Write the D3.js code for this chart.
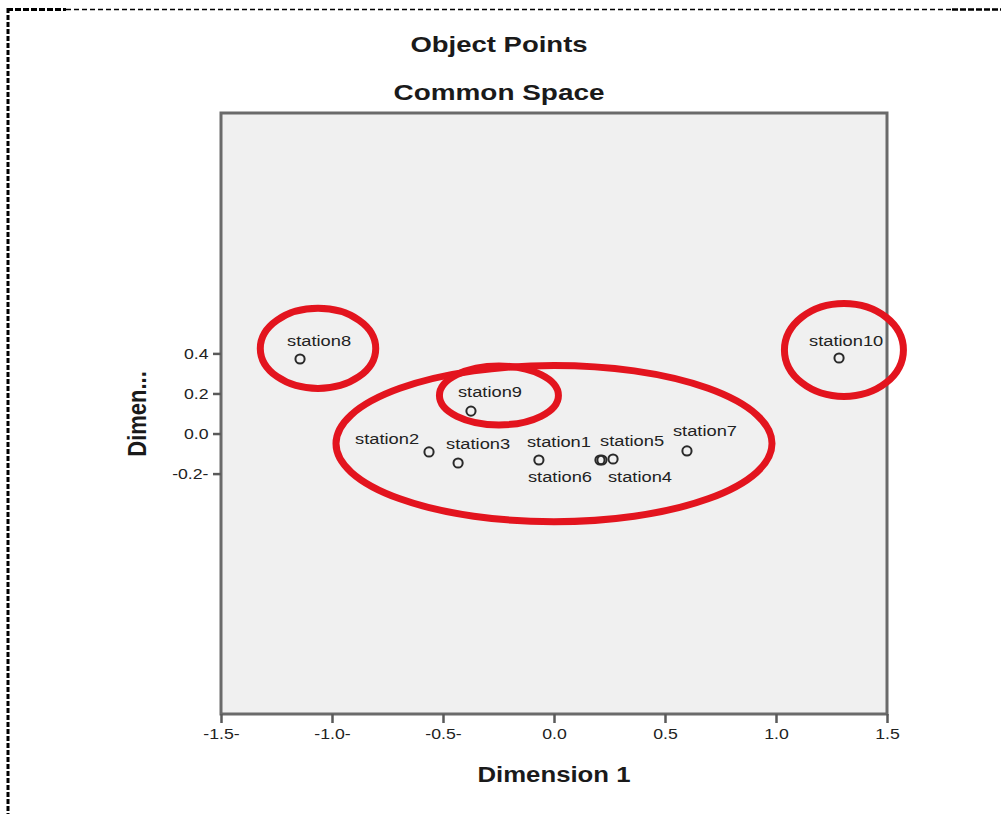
<!DOCTYPE html>
<html>
<head>
<meta charset="utf-8">
<script src="https://cdn.jsdelivr.net/npm/d3@7"></script>
<style>
  html, body { margin: 0; padding: 0; background: #ffffff; }
  svg { display: block; }
  text { font-family: "Liberation Sans", Arial, sans-serif; }
</style>
</head>
<body>
<svg id="chart" width="1001" height="814"></svg>
<script>
// Object points in the common space (dimension 1, dimension 2)
const stations = ["station1", "station2", "station3", "station4", "station5",
                  "station6", "station7", "station8", "station9", "station10"];
const dim1 = [-0.068, -0.563, -0.432, 0.216, 0.266, 0.207, 0.599, -1.144, -0.374, 1.284];
const dim2 = [-0.132, -0.092, -0.147, -0.132, -0.127, -0.132, -0.087, 0.372, 0.112, 0.377];

// Axis ticks and their printed labels
const xTicks = [-1.5, -1.0, -0.5, 0.0, 0.5, 1.0, 1.5];
const xTickLabels = ["-1.5-", "-1.0-", "-0.5-", "0.0", "0.5", "1.0", "1.5"];
const yTicks = [-0.2, 0.0, 0.2, 0.4];
const yTickLabels = ["-0.2-", "0.0", "0.2", "0.4"];

// Hand-drawn groupings (centre and radii in dimension units)
const groupCx = [-1.063, 0.0, -0.248, 1.306];
const groupCy = [0.425, -0.05, 0.19, 0.417];
const groupRx = [0.26, 0.982, 0.268, 0.268];
const groupRy = [0.20, 0.39, 0.147, 0.232];

const svg = d3.select("#chart");
const frame = { left: 221, right: 887, top: 113, bottom: 714 };

const x = d3.scaleLinear().domain([-1.5, 1.5]).range([frame.left, frame.right]);
const y = d3.scaleLinear().domain([-1.4, 1.6]).range([frame.bottom, frame.top]);

const SX = 1.22; // horizontal widening of the lettering

// Dashed page border
const border = svg.append("g").attr("fill", "none").attr("stroke", "#000");
border.append("line").attr("x1", 7).attr("x2", 66).attr("y1", 9.5).attr("y2", 9.5)
  .attr("stroke-width", 3).attr("stroke-dasharray", "6,2");
border.append("line").attr("x1", 66).attr("x2", 952).attr("y1", 9.5).attr("y2", 9.5)
  .attr("stroke-width", 1.3).attr("stroke-dasharray", "5,3");
border.append("line").attr("x1", 952).attr("x2", 1001).attr("y1", 9.5).attr("y2", 9.5)
  .attr("stroke-width", 2.5).attr("stroke-dasharray", "6,2");
border.append("line").attr("x1", 8).attr("x2", 8).attr("y1", 8).attr("y2", 814)
  .attr("stroke-width", 3).attr("stroke-dasharray", "5,2");

// Titles
function stretchedText(g, tx, ty, str, size, weight, anchor, sx) {
  return g.append("text")
    .attr("transform", `translate(${tx},${ty}) scale(${sx},1)`)
    .attr("text-anchor", anchor)
    .attr("font-size", size)
    .attr("font-weight", weight)
    .attr("fill", "#1a1a1a")
    .text(str);
}
stretchedText(svg, 499, 52, "Object Points", 22, "bold", "middle", 1.25);
stretchedText(svg, 499, 100, "Common Space", 22, "bold", "middle", 1.27);
stretchedText(svg, 554, 782, "Dimension 1", 22, "bold", "middle", 1.17);

svg.append("text")
  .attr("transform", "translate(146,414) rotate(-90) scale(1,1.15)")
  .attr("text-anchor", "middle")
  .attr("font-size", 22)
  .attr("font-weight", "bold")
  .attr("fill", "#1a1a1a")
  .text("Dimen...");

// Plot frame
svg.append("rect")
  .attr("x", frame.left).attr("y", frame.top)
  .attr("width", frame.right - frame.left).attr("height", frame.bottom - frame.top)
  .attr("fill", "#f0f0f0")
  .attr("stroke", "#6a6a6a")
  .attr("stroke-width", 3);

// Axes
const xAxis = d3.axisBottom(x)
  .tickValues(xTicks)
  .tickFormat((d, i) => xTickLabels[i])
  .tickSize(9)
  .tickPadding(5);
const gx = svg.append("g").attr("transform", `translate(0,${frame.bottom})`).call(xAxis);

const yAxis = d3.axisLeft(y)
  .tickValues(yTicks)
  .tickFormat((d, i) => yTickLabels[i])
  .tickSize(8)
  .tickPadding(3);
const gy = svg.append("g").attr("transform", `translate(${frame.left},0)`).call(yAxis);

[gx, gy].forEach(g => {
  g.select(".domain").remove();
  g.selectAll(".tick line").attr("stroke", "#5a5a5a").attr("stroke-width", 2.5);
  g.selectAll(".tick text")
    .attr("font-size", 15.5)
    .attr("font-family", "Liberation Sans, Arial, sans-serif")
    .attr("fill", "#222")
    .attr("transform", "scale(1.14,1)");
});

// Points
const pts = stations.map((name, i) => ({ name, d1: dim1[i], d2: dim2[i] }));

svg.append("g").selectAll("circle")
  .data(pts)
  .join("circle")
  .attr("cx", d => x(d.d1))
  .attr("cy", d => y(d.d2))
  .attr("r", 4.6)
  .attr("fill", "none")
  .attr("stroke", "#2a2a2a")
  .attr("stroke-width", 2);

// Label placement next to each point (pixel offsets of the text's left baseline)
const labelOffset = {
  station1: [-12, -13], station2: [-74, -8], station3: [-12, -14],
  station4: [6, 22], station5: [-13, -13], station6: [-72, 22],
  station7: [-14, -15], station8: [-13, -13], station9: [-13, -14],
  station10: [-30, -12]
};

const labels = svg.append("g");
pts.forEach(d => {
  const [dx, dy] = labelOffset[d.name];
  labels.append("text")
    .attr("transform", `translate(${x(d.d1) + dx},${y(d.d2) + dy}) scale(${SX},1)`)
    .attr("font-size", 15)
    .attr("fill", "#222")
    .text(d.name);
});

// Red groupings
svg.append("g").selectAll("ellipse")
  .data(groupCx.map((cx, i) => ({ cx, cy: groupCy[i], rx: groupRx[i], ry: groupRy[i] })))
  .join("ellipse")
  .attr("cx", d => x(d.cx))
  .attr("cy", d => y(d.cy))
  .attr("rx", d => x(d.rx) - x(0))
  .attr("ry", d => y(0) - y(d.ry))
  .attr("fill", "none")
  .attr("stroke", "#e3141e")
  .attr("stroke-width", 7);
</script>
</body>
</html>
